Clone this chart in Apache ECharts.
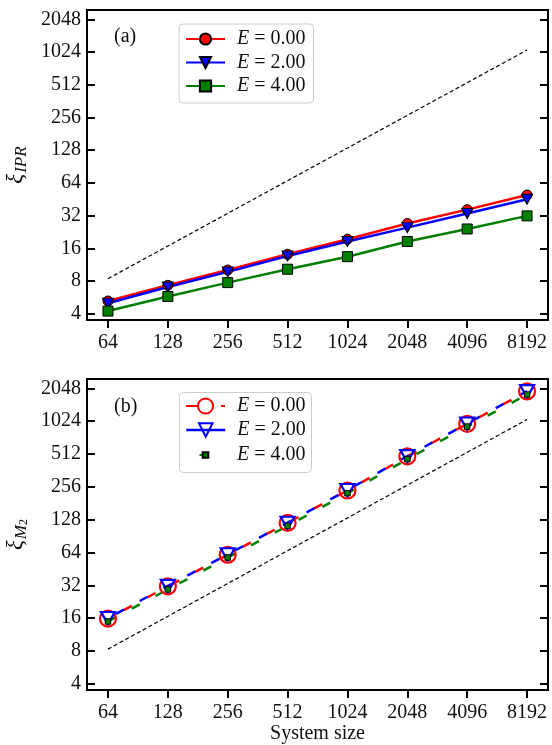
<!DOCTYPE html>
<html>
<head>
<meta charset="utf-8">
<script src="https://cdn.jsdelivr.net/npm/echarts@6/dist/echarts.min.js"></script>
<style>
  html, body { margin: 0; padding: 0; background: #fff; }
  #chart { width: 552px; height: 745px; }
</style>
</head>
<body>
<div id="chart"></div>
<script>
// System sizes (x) and tick values for both panels
const sizes = [64, 128, 256, 512, 1024, 2048, 4096, 8192];
const valueTicks = [4, 8, 16, 32, 64, 128, 256, 512, 1024, 2048];

// Panel (a): xi_IPR
const iprE0 = [5.24, 7.3, 10.1, 14.1, 19.4, 27.1, 36.3, 49.5];
const iprE2 = [5.0, 7.05, 9.7, 13.6, 18.5, 24.8, 33.4, 45.3];
const iprE4 = [4.23, 5.76, 7.73, 10.27, 13.4, 18.5, 24.1, 31.8];

// Panel (b): xi_M2
const m2E0 = [15.8, 31.3, 61, 119.5, 237, 488, 970, 1925];
const m2E2 = [16.0, 31.6, 61.5, 120, 239, 490, 975, 1935];
const m2E4 = [14.9, 29.3, 57.5, 112, 224, 460, 915, 1800];

// Linear guide lines (slope 1 on log-log)
const guideSizes = [64, 8192];
const guideIpr = [8.4, 1070];
const guideM2 = [8.3, 1062];

const legendNames = ['E = 0.00', 'E = 2.00', 'E = 4.00'];

const FONT = 'Liberation Serif';
const TXT = '#111';

const pairs = (xs, ys) => xs.map((x, i) => [x, ys[i]]);

function xAxisFor(gridIndex, withName) {
  const ax = {
    type: 'log', logBase: 2, gridIndex,
    min: 50.2, max: 10440,
    axisLine: { show: false },
    splitLine: { show: false },
    axisTick: { customValues: sizes, length: 8, lineStyle: { color: '#000', width: 2 } },
    axisLabel: {
      customValues: sizes, margin: 13,
      fontFamily: FONT, fontSize: 20, color: TXT,
      formatter: v => String(Math.round(v))
    }
  };
  if (withName) {
    ax.name = 'System size';
    ax.nameLocation = 'middle';
    ax.nameGap = 34;
    ax.nameTextStyle = { fontFamily: FONT, fontSize: 20, color: TXT };
  }
  return ax;
}

function yAxisFor(gridIndex, side, name, rich, gap) {
  const ax = {
    type: 'log', logBase: 2, gridIndex, position: side,
    min: 3.5, max: 2500,
    axisLine: { show: false },
    splitLine: { show: false },
    axisTick: { inside: true, customValues: valueTicks, length: 8, lineStyle: { color: '#000', width: 2 } },
    axisLabel: {
      show: side === 'left', customValues: valueTicks, margin: 6,
      fontFamily: FONT, fontSize: 20, color: TXT,
      formatter: v => String(Math.round(v))
    }
  };
  if (name) {
    ax.name = name;
    ax.nameLocation = 'middle';
    ax.nameRotate = 90;
    ax.nameGap = gap;
    ax.nameTextStyle = { fontFamily: FONT, color: TXT, rich };
  }
  return ax;
}

const xiRich = {
  x: { fontFamily: FONT, fontStyle: 'italic', fontSize: 23, lineHeight: 28, verticalAlign: 'middle', color: TXT },
  s: { fontFamily: FONT, fontStyle: 'italic', fontSize: 17, lineHeight: 16, verticalAlign: 'bottom', color: TXT, padding: [0, 0, 0, 1] },
  ss: { fontFamily: FONT, fontSize: 12, lineHeight: 8, verticalAlign: 'bottom', color: TXT }
};

const legendText = {
  fontFamily: FONT, fontSize: 20, color: TXT, lineHeight: 20,
  rich: {
    e: { fontFamily: FONT, fontStyle: 'italic', fontSize: 20, color: TXT, lineHeight: 20, padding: [0, 0, 0, 7] },
    n: { fontFamily: FONT, fontSize: 20, color: TXT, lineHeight: 20 }
  }
};
const legendFormatter = name => '{e|E}{n| ' + name.split('E ')[1] + '}';

function solidSeries(tag, label, data, color, symbol, size, rotate) {
  return {
    type: 'line', name: tag + label, xAxisIndex: 0, yAxisIndex: 0,
    data: pairs(sizes, data),
    symbol, symbolSize: size, symbolRotate: rotate || 0,
    lineStyle: { color, width: 2.5 },
    itemStyle: { color, borderColor: '#000', borderWidth: 1 },
    z: 3
  };
}

function dashedSeries(tag, label, data, color, symbol, size, rotate, offset, item) {
  return {
    type: 'line', name: tag + label, xAxisIndex: 1, yAxisIndex: 2,
    data: pairs(sizes, data),
    symbol, symbolSize: size, symbolRotate: rotate || 0,
    lineStyle: { color, width: 2.5, type: [9, 18], dashOffset: offset },
    itemStyle: item,
    z: 3
  };
}

function guideSeries(xi, yi, ys) {
  return {
    type: 'line', xAxisIndex: xi, yAxisIndex: yi, silent: true,
    data: pairs(guideSizes, ys), symbol: 'none',
    lineStyle: { color: '#000', width: 1.2, type: [4, 2.6] },
    z: 2
  };
}

const chart = echarts.init(document.getElementById('chart'), null, { renderer: 'canvas' });

chart.setOption({
  animation: false,
  backgroundColor: '#fff',
  title: [
    { text: '(a)', left: 114, top: 27, padding: 0, textStyle: { fontFamily: FONT, fontSize: 20, fontWeight: 'normal', color: TXT } },
    { text: '(b)', left: 114, top: 397, padding: 0, textStyle: { fontFamily: FONT, fontSize: 20, fontWeight: 'normal', color: TXT } }
  ],
  grid: [
    { left: 87, top: 10, width: 461, height: 310, outerBoundsMode: 'none', containLabel: false,
      show: true, borderColor: '#000', borderWidth: 2, backgroundColor: 'transparent' },
    { left: 87, top: 379, width: 461, height: 311, outerBoundsMode: 'none', containLabel: false,
      show: true, borderColor: '#000', borderWidth: 2, backgroundColor: 'transparent' }
  ],
  xAxis: [xAxisFor(0, false), xAxisFor(1, true)],
  yAxis: [
    yAxisFor(0, 'left', '{x|ξ}{s|IPR}', xiRich, 47),
    yAxisFor(0, 'right'),
    yAxisFor(1, 'left', '{x|ξ}{s|M}{ss|2}', xiRich, 52),
    yAxisFor(1, 'right')
  ],
  legend: [
    {
      data: legendNames.map(n => 'IPR ' + n),
      orient: 'vertical', left: 179, top: 24, padding: [5, 8, 7, 6],
      itemWidth: 39, itemHeight: 14, itemGap: 3.5,
      borderColor: '#ccc', borderWidth: 1, borderRadius: 4,
      backgroundColor: 'rgba(255,255,255,0.8)',
      selectedMode: false, textStyle: legendText, formatter: legendFormatter
    },
    {
      data: ['M2 ' + legendNames[0]], orient: 'vertical', left: 185, top: 396, padding: 0,
      itemWidth: 39, itemHeight: 19, selectedMode: false, textStyle: legendText, formatter: legendFormatter,
      lineStyle: { type: [13, 22], dashOffset: 0 }
    },
    {
      data: ['M2 ' + legendNames[1]], orient: 'vertical', left: 185, top: 420, padding: 0,
      itemWidth: 39, itemHeight: 17, selectedMode: false, textStyle: legendText, formatter: legendFormatter,
      lineStyle: { type: 'solid', color: '#0000ff', width: 2.5 }
    },
    {
      data: ['M2 ' + legendNames[2]], orient: 'vertical', left: 185, top: 445, padding: 0,
      itemWidth: 39, itemHeight: 7, selectedMode: false, textStyle: legendText, formatter: legendFormatter,
      lineStyle: { type: [0.1, 13.4, 5, 30], dashOffset: 0 }
    }
  ],
  graphic: [
    {
      type: 'rect', z: 3, silent: true,
      shape: { x: 179.5, y: 392.5, width: 132, height: 80, r: 4 },
      style: { fill: 'rgba(255,255,255,0.8)', stroke: '#ccc', lineWidth: 1 }
    }
  ],
  series: [
    guideSeries(0, 0, guideIpr),
    solidSeries('IPR ', legendNames[0], iprE0, '#ff0000', 'circle', 10),
    solidSeries('IPR ', legendNames[1], iprE2, '#0000ff', 'triangle', [11, 10], 180),
    solidSeries('IPR ', legendNames[2], iprE4, '#008000', 'rect', 10),

    guideSeries(1, 2, guideM2),
    dashedSeries('M2 ', legendNames[0], m2E0, '#ff0000', 'circle', 16, 0, 9,
      { color: 'rgba(0,0,0,0)', borderColor: '#ff0000', borderWidth: 2.2 }),
    dashedSeries('M2 ', legendNames[1], m2E2, '#0000ff', 'triangle', [14, 12], 180, 18,
      { color: 'rgba(0,0,0,0)', borderColor: '#0000ff', borderWidth: 2.2 }),
    dashedSeries('M2 ', legendNames[2], m2E4, '#008000', 'rect', 5.5, 0, 0,
      { color: '#008000', borderColor: '#000', borderWidth: 1 })
  ]
});
</script>
</body>
</html>
